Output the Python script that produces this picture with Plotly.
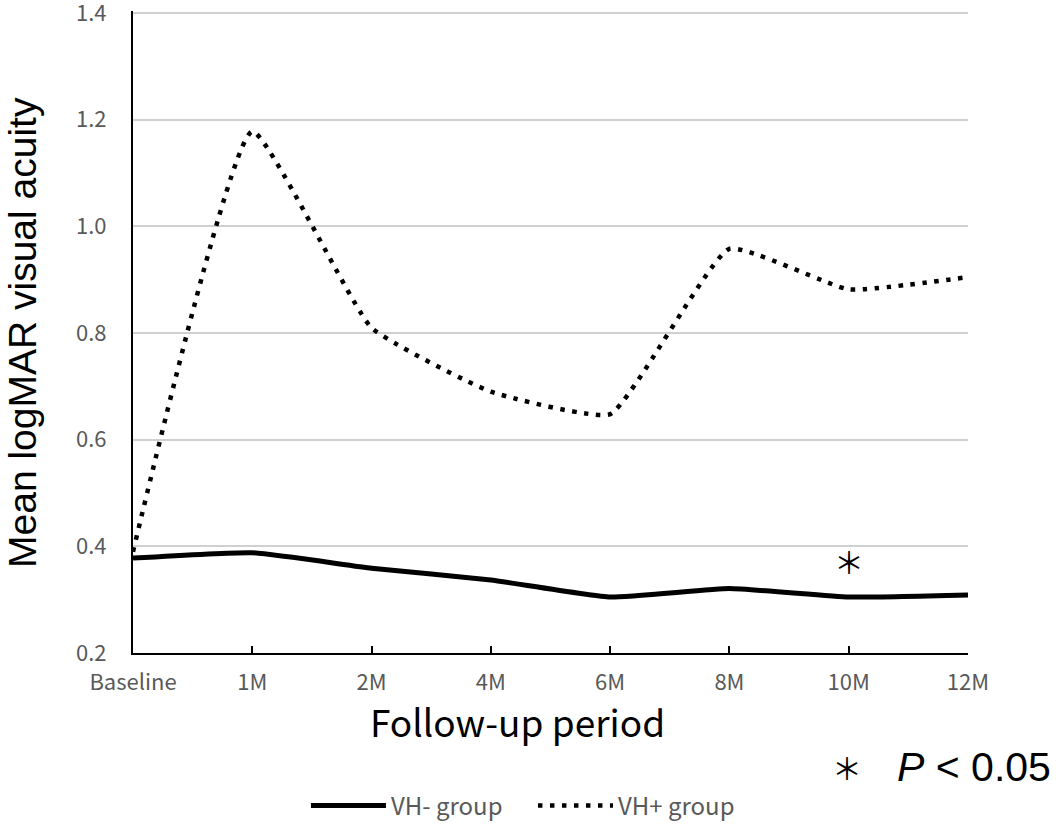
import plotly.graph_objects as go

periods = ["Baseline", "1M", "2M", "4M", "6M", "8M", "10M", "12M"]
vh_minus = [0.378, 0.388, 0.359, 0.337, 0.305, 0.321, 0.305, 0.309]
vh_plus = [0.39, 1.178, 0.81, 0.69, 0.648, 0.958, 0.882, 0.905]
y_ticks = [0.2, 0.4, 0.6, 0.8, 1.0, 1.2, 1.4]
sig_period = "10M"
sig_y = 0.372

fig = go.Figure()
fig.add_trace(go.Scatter(
    x=periods, y=vh_minus, name="VH- group", mode="lines",
    line=dict(color="black", width=5, shape="spline", smoothing=0.4),
))
fig.add_trace(go.Scatter(
    x=periods, y=vh_plus, name="VH+ group", mode="lines",
    line=dict(color="black", width=4.5, dash="4.5px,7.5px", shape="spline", smoothing=0.4),
))

fig.add_annotation(x=sig_period, y=sig_y, text="＊", showarrow=False,
                   xanchor="center", yanchor="middle",
                   font=dict(family="Noto Sans CJK JP", size=30, color="black"))
fig.add_annotation(xref="paper", yref="paper", x=-0.133, y=0.5, text="Mean logMAR visual acuity",
                   textangle=-90, showarrow=False, xanchor="center", yanchor="middle",
                   font=dict(family="Liberation Sans", size=39, color="black"))
fig.add_annotation(xref="paper", yref="paper", x=0.461, y=-0.106, text="Follow-up period",
                   showarrow=False, xanchor="center", yanchor="middle",
                   font=dict(family="Noto Sans CJK JP", size=37, color="black"))
fig.add_annotation(xref="paper", yref="paper", x=0.855, y=-0.178, text="＊",
                   showarrow=False, xanchor="center", yanchor="middle",
                   font=dict(family="Noto Sans CJK JP", size=30, color="black"))
fig.add_annotation(xref="paper", yref="paper", x=1.102, y=-0.178, xanchor="right", yanchor="middle",
                   text="<i>P</i> &lt; 0.05",
                   showarrow=False,
                   font=dict(family="Liberation Sans", size=41, color="black"))

fig.update_layout(
    width=1061, height=824,
    margin=dict(l=133, r=93, t=11, b=171, autoexpand=False),
    paper_bgcolor="white", plot_bgcolor="white",
    showlegend=True,
    legend=dict(orientation="h", x=0.479, xanchor="center", y=-0.238, yanchor="middle",
                font=dict(family="Noto Sans CJK JP", size=24, color="#595959"),
                itemwidth=75, entrywidth=137, entrywidthmode="pixels"),
    xaxis=dict(
        type="category", range=[0, 7], showgrid=False, automargin=False,
        showline=True, linecolor="black", linewidth=2,
        ticks="inside", ticklen=7, tickwidth=2, tickcolor="black",
        tickfont=dict(family="Noto Sans CJK JP", size=22, color="#595959"),
        ticklabelstandoff=9,
    ),
    yaxis=dict(
        range=[0.2, 1.404], tickmode="array", tickvals=y_ticks,
        ticktext=[f"{v:.1f}" for v in y_ticks], automargin=False,
        ticklabeloverflow="allow",
        showgrid=True, gridcolor="#d0d0d0", gridwidth=1.5,
        showline=True, linecolor="black", linewidth=2,
        zeroline=False,
        tickfont=dict(family="Noto Sans CJK JP", size=22, color="#595959"),
        ticklabelstandoff=20,
    ),
)

fig.write_html("out.html", config={"displayModeBar": False},
               post_script="document.body.style.margin='0';document.body.style.overflow='hidden';")
